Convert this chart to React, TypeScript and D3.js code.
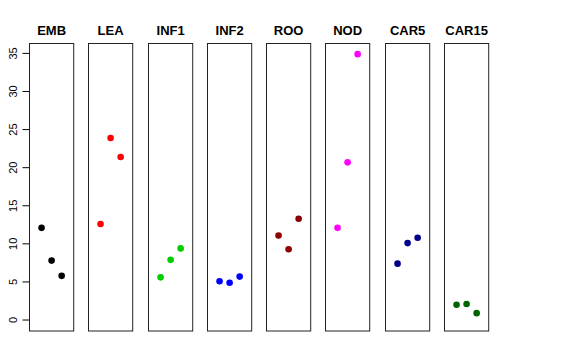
import * as d3 from "d3";

const groups = ["EMB", "LEA", "INF1", "INF2", "ROO", "NOD", "CAR5", "CAR15"];
const colors = ["#000000", "#ff0000", "#00cd00", "#0000ff", "#8b0000", "#ff00ff", "#00008b", "#006400"];
const replicates = [1, 2, 3];
const values = [
  [12.1, 7.8, 5.8],
  [12.6, 23.9, 21.4],
  [5.6, 7.9, 9.4],
  [5.1, 4.9, 5.7],
  [11.1, 9.3, 13.3],
  [12.1, 20.7, 34.9],
  [7.4, 10.1, 10.8],
  [2.0, 2.1, 0.9],
];
const yTicks = [0, 5, 10, 15, 20, 25, 30, 35];

const W = 576, H = 360;
const top = 43.5, bottom = 331;

export default function App() {
  const x = d3.scaleBand<string>().domain(groups).range([29, 488]).paddingInner(0.254).paddingOuter(0);
  const y = d3.scaleLinear().domain([-1.44, 36.3]).range([bottom, top]);
  const inner = d3.scaleLinear().domain([-0.2, 4.2]).range([0, x.bandwidth()]);
  const font = "'Liberation Sans', Arial, sans-serif";

  return (
    <svg width={W} height={H} style={{ position: "absolute", left: 0, top: 0, background: "#fff" }} fontFamily={font}>
      {/* y axis */}
      <line x1={29.5} x2={29.5} y1={y(0)} y2={y(35)} stroke="#000" />
      {yTicks.map(t => (
        <g key={t} transform={`translate(29.5,${y(t)})`}>
          <line x1={-7} x2={0} stroke="#000" />
          <text transform="translate(-13,0) rotate(-90)" textAnchor="middle" fontSize={11} fill="#000">{t}</text>
        </g>
      ))}
      {groups.map((g, i) => {
        const x0 = Math.round(x(g)!) + 0.5;
        return (
          <g key={g}>
            <text x={x0 + x.bandwidth() / 2} y={35} textAnchor="middle" fontSize={13} fontWeight="bold">{g}</text>
            <rect x={x0} y={top} width={x.bandwidth()} height={bottom - top} fill="none" stroke="#222" />
            {values[i].map((v, j) => (
              <circle key={j} cx={x0 + inner(replicates[j])} cy={y(v)} r={3.3} fill={colors[i]} />
            ))}
          </g>
        );
      })}
    </svg>
  );
}
